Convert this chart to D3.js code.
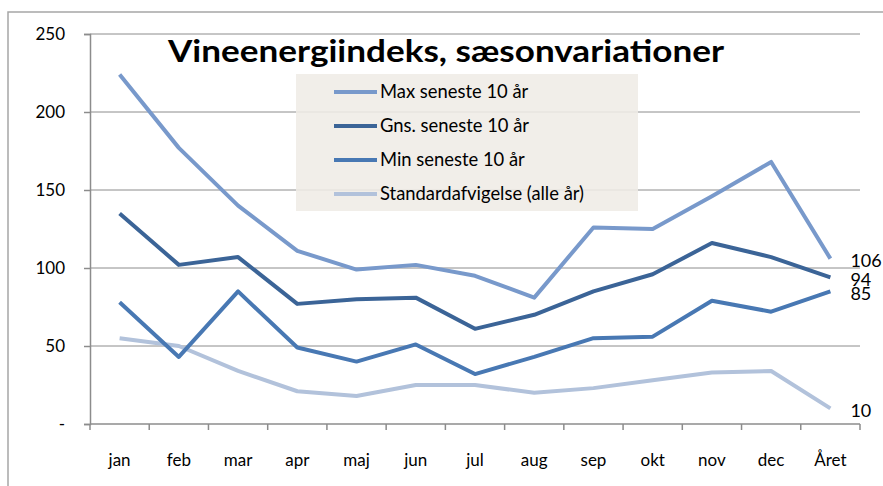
<!DOCTYPE html>
<html>
<head>
<meta charset="utf-8">
<script src="https://cdn.jsdelivr.net/npm/d3@7"></script>
<style>
  body { margin: 0; background: #fff; }
  svg { display: block; font-family: Lato, "Open Sans", sans-serif; }
</style>
</head>
<body>
<svg id="chart" width="883" height="486"></svg>
<script>
// Months plus the yearly total
const categories = ["jan", "feb", "mar", "apr", "maj", "jun", "jul", "aug", "sep", "okt", "nov", "dec", "Året"];

const maxSeneste10 = [224, 177, 140, 111, 99, 102, 95, 81, 126, 125, 146, 168, 106];
const gnsSeneste10 = [135, 102, 107, 77, 80, 81, 61, 70, 85, 96, 116, 107, 94];
const minSeneste10 = [78, 43, 85, 49, 40, 51, 32, 43, 55, 56, 79, 72, 85];
const standardafvigelse = [55, 50, 34, 21, 18, 25, 25, 20, 23, 28, 33, 34, 10];

const seriesNames = ["Max seneste 10 år", "Gns. seneste 10 år", "Min seneste 10 år", "Standardafvigelse (alle år)"];
const yTicks = [0, 50, 100, 150, 200, 250];

const series = [
  { name: seriesNames[0], values: maxSeneste10, color: "#7899cb" },
  { name: seriesNames[1], values: gnsSeneste10, color: "#3b6497" },
  { name: seriesNames[2], values: minSeneste10, color: "#4878b3" },
  { name: seriesNames[3], values: standardafvigelse, color: "#b2c2db" }
];

const svg = d3.select("#chart");
const plotLeft = 90, plotRight = 860, plotTop = 34, plotBottom = 424;

const x = d3.scaleBand().domain(categories).range([plotLeft, plotRight]);
const y = d3.scaleLinear().domain([0, 250]).range([plotBottom, plotTop]);

// outer chart frame
svg.append("rect")
  .attr("x", 8).attr("y", 12).attr("width", 900).attr("height", 500)
  .attr("fill", "none").attr("stroke", "#a6a6a6").attr("stroke-width", 1.5);

// horizontal gridlines
svg.append("g").selectAll("line")
  .data(yTicks.filter(d => d > 0))
  .join("line")
  .attr("x1", plotLeft).attr("x2", plotRight)
  .attr("y1", d => y(d)).attr("y2", d => y(d))
  .attr("stroke", "#8c8c8c").attr("stroke-width", 1);

// y axis
const yAxis = svg.append("g")
  .attr("transform", `translate(${plotLeft},0)`)
  .call(d3.axisLeft(y).tickValues(yTicks).tickSize(6).tickPadding(19)
    .tickFormat(d => d === 0 ? "-" : d));
yAxis.select(".domain").attr("stroke", "#8c8c8c").attr("stroke-width", 1.5);
yAxis.selectAll(".tick line").attr("stroke", "#8c8c8c").attr("stroke-width", 1.5);
yAxis.selectAll(".tick text")
  .attr("font-family", "Lato, sans-serif").attr("font-size", 17).attr("fill", "#000");

// x axis with ticks at category boundaries
const xAxis = svg.append("g").attr("transform", `translate(0,${plotBottom})`);
xAxis.append("line")
  .attr("x1", plotLeft).attr("x2", plotRight).attr("y1", 0).attr("y2", 0)
  .attr("stroke", "#8c8c8c").attr("stroke-width", 1.5);
const boundaries = categories.map(c => x(c)).concat([plotRight]);
xAxis.selectAll("line.tick")
  .data(boundaries)
  .join("line").attr("class", "tick")
  .attr("x1", d => d).attr("x2", d => d).attr("y1", 0).attr("y2", 6)
  .attr("stroke", "#8c8c8c").attr("stroke-width", 1.5);
xAxis.selectAll("text")
  .data(categories)
  .join("text")
  .attr("x", d => x(d) + x.bandwidth() / 2)
  .attr("y", 42)
  .attr("text-anchor", "middle")
  .attr("font-size", 17).attr("fill", "#000")
  .text(d => d);

// series lines
const line = d3.line()
  .x((d, i) => x(categories[i]) + x.bandwidth() / 2)
  .y(d => y(d));

svg.append("g").selectAll("path")
  .data(series.slice().reverse())
  .join("path")
  .attr("d", d => line(d.values))
  .attr("fill", "none")
  .attr("stroke", d => d.color)
  .attr("stroke-width", 4)
  .attr("stroke-linejoin", "round");

// value labels at the yearly point
const lastIdx = categories.length - 1;
const labelX = x(categories[lastIdx]) + x.bandwidth() / 2 + 20;
svg.append("g").selectAll("text")
  .data(series)
  .join("text")
  .attr("x", labelX)
  .attr("y", d => y(d.values[lastIdx]) + 2)
  .attr("dy", "0.35em")
  .attr("font-size", 18).attr("fill", "#000")
  .text(d => d.values[lastIdx]);

// legend
const legend = svg.append("g");
legend.append("rect")
  .attr("x", 296).attr("y", 74).attr("width", 342).attr("height", 137)
  .attr("fill", "#efece6").attr("fill-opacity", 0.88);
const rows = legend.selectAll("g")
  .data(series)
  .join("g")
  .attr("transform", (d, i) => `translate(0,${92 + i * 34})`);
rows.append("line")
  .attr("x1", 334).attr("x2", 377).attr("y1", 0).attr("y2", 0)
  .attr("stroke", d => d.color).attr("stroke-width", 4);
rows.append("text")
  .attr("x", 380).attr("y", 0).attr("dy", "0.35em")
  .attr("font-size", 18.4).attr("fill", "#000")
  .text(d => d.name);

// title
svg.append("text")
  .attr("x", 446).attr("y", 62)
  .attr("text-anchor", "middle")
  .attr("font-size", 31).attr("font-weight", "bold").attr("fill", "#000")
  .attr("textLength", 556).attr("lengthAdjust", "spacingAndGlyphs")
  .text("Vineenergiindeks, sæsonvariationer");
</script>
</body>
</html>
